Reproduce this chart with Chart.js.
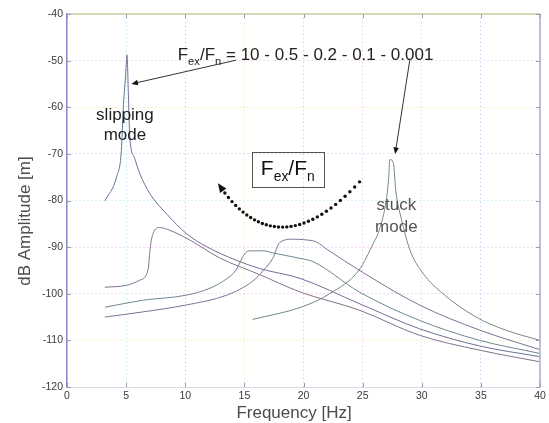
<!DOCTYPE html>
<html>
<head>
<meta charset="utf-8">
<script src="https://cdn.jsdelivr.net/npm/chart.js@4.4.1/dist/chart.umd.min.js"></script>
<style>
html, body { margin: 0; padding: 0; background: #fff; }
#wrap { width: 549px; height: 423px; position: relative; }
</style>
</head>
<body>
<div id="wrap"><canvas id="responseChart"></canvas></div>
<script>
// Fex/Fn ratios, one response curve each
const ratioLabels = ['10', '0.5', '0.2', '0.1', '0.001'];

// Fex/Fn = 10 (slipping mode peak near 5 Hz)
const freqA = [3.2, 4.2, 4.6, 4.75, 4.96, 5.07, 5.2, 5.3, 5.7, 6.15, 7.0, 8.4, 10.1, 11.8, 14.3, 16.3, 19.7, 24.7, 29.8, 34.9, 40];
const ampA = [-80.1, -74.9, -69.2, -60.5, -53, -48.8, -58, -66, -70.8, -74.2, -78.5, -82.8, -87.1, -89.9, -92.8, -94.6, -96.7, -102.1, -107.5, -111.2, -113.5];

// Fex/Fn = 0.5
const freqB = [3.2, 5.0, 6.15, 6.85, 7.05, 7.27, 7.84, 8.7, 10.4, 12.9, 16.3, 19.7, 24.7, 29.8, 34.9, 40];
const ampB = [-98.6, -98.2, -97.1, -94.9, -89.9, -87.1, -85.8, -86.4, -88.5, -92.3, -95.9, -99.6, -103.5, -108.9, -112.1, -114.6];

// Fex/Fn = 0.2
const freqC = [3.2, 6.4, 10.1, 12.1, 13.5, 14.3, 15.0, 15.4, 16.6, 17.5, 19.7, 20.8, 24.7, 29.8, 34.9, 40];
const ampC = [-102.9, -101.4, -100.3, -98.8, -96.8, -94.9, -91.5, -90.8, -90.8, -91.3, -92.4, -93.1, -99.6, -105.7, -110.0, -112.8];

// Fex/Fn = 0.1
const freqD = [3.2, 6.4, 10.1, 13.5, 15.7, 16.6, 17.4, 18.0, 19.1, 20.0, 21.1, 22.0, 25.0, 29.8, 34.9, 40];
const ampD = [-105.0, -103.9, -102.4, -100.3, -97.3, -95.0, -92.4, -89.0, -88.3, -88.4, -88.9, -90.5, -95.4, -102.4, -107.8, -112.0];

// Fex/Fn = 0.001 (stuck mode peak near 27.5 Hz)
const freqE = [15.7, 19.9, 22.2, 24.7, 25.9, 26.4, 27.0, 27.2, 27.3, 27.6, 27.8, 28.3, 29.0, 30.1, 31.8, 34.6, 37.1, 40];
const ampE = [-105.5, -102.8, -100.0, -94.9, -89.2, -86.4, -79.9, -75.3, -71.2, -72.0, -77.8, -84.2, -90.6, -95.6, -100.0, -105.0, -107.8, -110.0];

const xTicks = [0, 5, 10, 15, 20, 25, 30, 35, 40];
const yTicks = [-120, -110, -100, -90, -80, -70, -60, -50, -40];

const curveColors = ['#6d6f98', '#86708e', '#6f8690', '#7a7496', '#748a80'];
const gridColors = ['rgba(226,150,230,0.75)', 'rgba(140,220,230,0.75)', 'rgba(170,170,240,0.75)', 'rgba(230,215,120,0.75)', 'rgba(240,150,200,0.75)'];

const FONT = "'Liberation Sans', Arial, sans-serif";

function toPoints(xs, ys) {
    var points = [];
    for (let i = 0; i < xs.length; i++) {
        points.push({ x: xs[i], y: ys[i] });
    }
    return points;
}

//Draw text with "sub" parts lowered and smaller.
function drawRichText(ctx, parts, x, y, size) {
    var cx = x;
    parts.forEach(function (part) {
        var fs = part.sub ? size * 0.66 : size;
        ctx.font = fs + 'px ' + FONT;
        ctx.fillText(part.t, cx, part.sub ? y + size * 0.28 : y);
        cx += ctx.measureText(part.t).width;
    });
    return cx - x;
}

function richWidth(ctx, parts, size) {
    var w = 0;
    parts.forEach(function (part) {
        ctx.font = (part.sub ? size * 0.66 : size) + 'px ' + FONT;
        w += ctx.measureText(part.t).width;
    });
    return w;
}

function drawArrow(ctx, x1, y1, x2, y2, head) {
    var a = Math.atan2(y2 - y1, x2 - x1);
    ctx.beginPath();
    ctx.moveTo(x1, y1);
    ctx.lineTo(x2 - Math.cos(a) * head * 0.8, y2 - Math.sin(a) * head * 0.8);
    ctx.stroke();
    ctx.beginPath();
    ctx.moveTo(x2, y2);
    ctx.lineTo(x2 - head * Math.cos(a - 0.4), y2 - head * Math.sin(a - 0.4));
    ctx.lineTo(x2 - head * Math.cos(a + 0.4), y2 - head * Math.sin(a + 0.4));
    ctx.closePath();
    ctx.fill();
}

const annotationPlugin = {
    id: 'annotations',
    afterDraw: function (chart) {
        var ctx = chart.ctx;
        var sx = chart.scales.x;
        var sy = chart.scales.y;
        var area = chart.chartArea;
        function px(f) { return sx.getPixelForValue(f); }
        function py(db) { return sy.getPixelForValue(db); }

        ctx.save();

        //Frame on top and right, MATLAB style.
        ctx.lineWidth = 2;
        ctx.strokeStyle = '#d6d6b6';
        ctx.beginPath();
        ctx.moveTo(area.left, area.top);
        ctx.lineTo(area.right, area.top);
        ctx.stroke();
        ctx.strokeStyle = '#bebed6';
        ctx.beginPath();
        ctx.moveTo(area.right, area.top);
        ctx.lineTo(area.right, area.bottom);
        ctx.stroke();

        //Inward tick marks.
        ctx.lineWidth = 1;
        ctx.strokeStyle = '#9a9ab8';
        xTicks.forEach(function (v) {
            var x = Math.round(px(v)) + 0.5;
            ctx.beginPath();
            ctx.moveTo(x, area.bottom);
            ctx.lineTo(x, area.bottom - 4);
            ctx.moveTo(x, area.top);
            ctx.lineTo(x, area.top + 4);
            ctx.stroke();
        });
        yTicks.forEach(function (v) {
            var y = Math.round(py(v)) + 0.5;
            ctx.beginPath();
            ctx.moveTo(area.left, y);
            ctx.lineTo(area.left + 4, y);
            ctx.moveTo(area.right, y);
            ctx.lineTo(area.right - 4, y);
            ctx.stroke();
        });

        //Axis titles.
        ctx.fillStyle = '#4c4c4c';
        ctx.font = '17px ' + FONT;
        ctx.textAlign = 'center';
        ctx.textBaseline = 'middle';
        ctx.fillText('Frequency [Hz]', px(19.2), py(-125.6));
        ctx.save();
        ctx.translate(25, py(-84.4));
        ctx.rotate(-Math.PI / 2);
        ctx.fillText('dB Amplitude [m]', 0, 0);
        ctx.restore();

        //Mode labels.
        ctx.fillStyle = '#222';
        ctx.fillText('slipping', px(4.9), py(-61.7));
        ctx.fillText('mode', px(4.9), py(-66.0));
        ctx.fillStyle = '#555';
        ctx.fillText('stuck', px(27.85), py(-81.0));
        ctx.fillText('mode', px(27.85), py(-85.7));

        //Ratio list at the top.
        ctx.textAlign = 'left';
        ctx.textBaseline = 'alphabetic';
        ctx.fillStyle = '#222';
        var topParts = [
            { t: 'F' }, { t: 'ex', sub: true }, { t: '/F' }, { t: 'n', sub: true },
            { t: ' = ' + ratioLabels.join(' - ') }
        ];
        drawRichText(ctx, topParts, px(9.36), py(-49.9), 17);

        //Arrows from the list to the two modes.
        ctx.strokeStyle = '#333';
        ctx.fillStyle = '#111';
        ctx.lineWidth = 1;
        drawArrow(ctx, px(14.3), py(-49.9), px(5.45), py(-55.0), 7);
        drawArrow(ctx, px(29.0), py(-49.7), px(27.75), py(-70.0), 7);

        //Boxed Fex/Fn label.
        var bx1 = px(15.64), by1 = py(-69.55), bx2 = px(21.7), by2 = py(-77.06);
        ctx.strokeStyle = '#555';
        ctx.strokeRect(Math.round(bx1) + 0.5, Math.round(by1) + 0.5, Math.round(bx2 - bx1), Math.round(by2 - by1));
        var boxParts = [{ t: 'F' }, { t: 'ex', sub: true }, { t: '/F' }, { t: 'n', sub: true }];
        ctx.fillStyle = '#111';
        var bw = richWidth(ctx, boxParts, 21);
        drawRichText(ctx, boxParts, (bx1 + bx2) / 2 - bw / 2, (by1 + by2) / 2 + 6, 21);

        //Dotted curved arrow.
        var p0 = { x: px(24.74), y: py(-76.0) };
        var p1 = { x: px(17.72), y: py(-95.26) };
        var p2 = { x: px(12.76), y: py(-76.3) };
        ctx.fillStyle = '#111';
        var steps = 34;
        var last = null;
        for (let i = 0; i <= steps - 2; i++) {
            var t = i / steps;
            var bx = (1 - t) * (1 - t) * p0.x + 2 * (1 - t) * t * p1.x + t * t * p2.x;
            var by = (1 - t) * (1 - t) * p0.y + 2 * (1 - t) * t * p1.y + t * t * p2.y;
            ctx.beginPath();
            ctx.arc(bx, by, 1.7, 0, Math.PI * 2);
            ctx.fill();
            last = { x: bx, y: by };
        }
        var ang = Math.atan2(p2.y - last.y, p2.x - last.x);
        ctx.beginPath();
        ctx.moveTo(p2.x, p2.y);
        ctx.lineTo(p2.x - 10 * Math.cos(ang - 0.4), p2.y - 10 * Math.sin(ang - 0.4));
        ctx.lineTo(p2.x - 10 * Math.cos(ang + 0.4), p2.y - 10 * Math.sin(ang + 0.4));
        ctx.closePath();
        ctx.fill();

        ctx.restore();
    }
};

function GenerateResponseChart() {
    var chartControl = document.getElementById('responseChart');

    var curves = [[freqA, ampA], [freqB, ampB], [freqC, ampC], [freqD, ampD], [freqE, ampE]];
    var dataSets = [];

    curves.forEach(function (curve, i) {
        dataSets.push({
            label: 'Fex/Fn = ' + ratioLabels[i],
            data: toPoints(curve[0], curve[1]),
            borderColor: curveColors[i],
            borderWidth: 1,
            pointRadius: 0,
            fill: false,
            cubicInterpolationMode: 'monotone'
        });
    });

    new Chart(chartControl, {
        type: 'line',
        data: { datasets: dataSets },
        plugins: [annotationPlugin],
        options: {
            responsive: true,
            maintainAspectRatio: false,
            animation: false,
            layout: {
                padding: { top: 14, right: 9, left: 0, bottom: 0 }
            },
            scales: {
                x: {
                    type: 'linear',
                    min: 0,
                    max: 40,
                    afterBuildTicks: function (scale) {
                        scale.ticks = xTicks.map(function (v) { return { value: v }; });
                    },
                    afterFit: function (scale) { scale.height = 36; },
                    ticks: {
                        color: '#3a3a3a',
                        padding: 3,
                        maxRotation: 0,
                        font: { family: FONT, size: 10.5 }
                    },
                    grid: {
                        drawTicks: false,
                        color: function (c) { return gridColors[c.index % gridColors.length]; }
                    },
                    border: { color: '#dadae8', width: 1, dash: [1, 3] }
                },
                y: {
                    type: 'linear',
                    min: -120,
                    max: -40,
                    afterBuildTicks: function (scale) {
                        scale.ticks = yTicks.map(function (v) { return { value: v }; });
                    },
                    afterFit: function (scale) { scale.width = 67; },
                    ticks: {
                        color: '#3a3a3a',
                        padding: 4,
                        font: { family: FONT, size: 10.5 }
                    },
                    grid: {
                        drawTicks: false,
                        color: function (c) { return gridColors[(c.index + 2) % gridColors.length]; }
                    },
                    border: { color: '#8a8ad2', width: 1.5, dash: [1, 3] }
                }
            },
            plugins: {
                legend: { display: false },
                tooltip: { enabled: false }
            }
        }
    });
}

GenerateResponseChart();
</script>
</body>
</html>
